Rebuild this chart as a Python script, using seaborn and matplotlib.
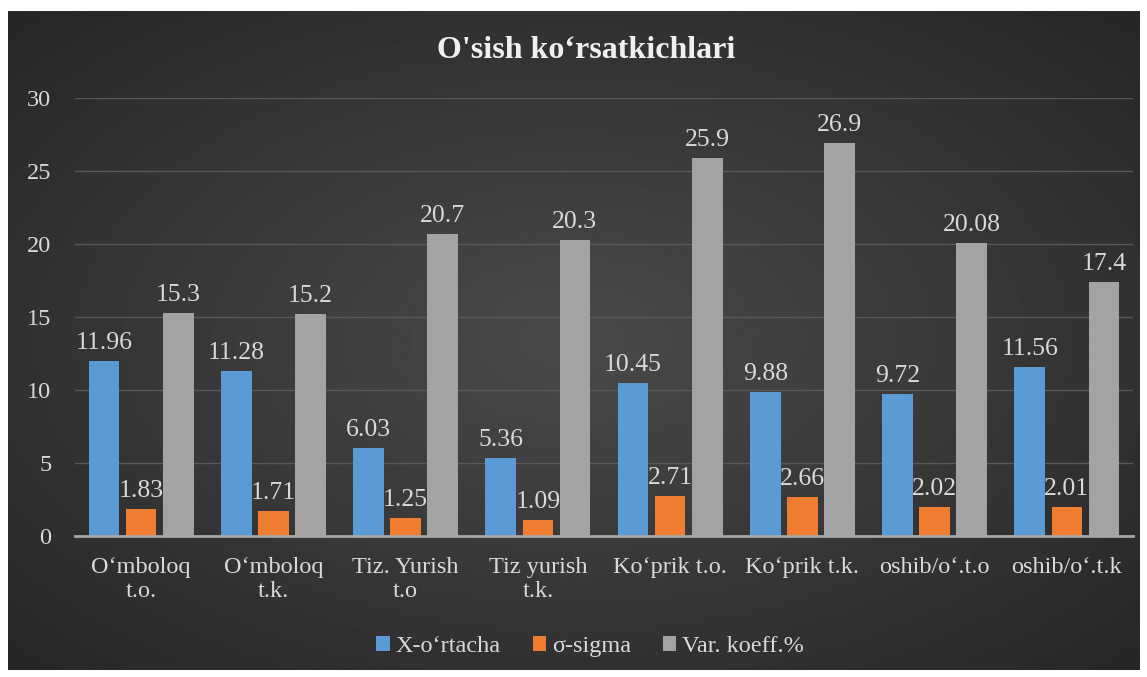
import numpy as np
import pandas as pd
import matplotlib.pyplot as plt
import seaborn as sns

# ma'lumotlar
categories = ["O‘mboloq\nt.o.", "O‘mboloq\nt.k.", "Tiz. Yurish\nt.o", "Tiz yurish\nt.k.",
              "Ko‘prik t.o.", "Ko‘prik t.k.", "oshib/o‘.t.o", "oshib/o‘.t.k"]
series_names = ["X-o‘rtacha", "σ-sigma", "Var. koeff.%"]
x_ortacha = [11.96, 11.28, 6.03, 5.36, 10.45, 9.88, 9.72, 11.56]
sigma = [1.83, 1.71, 1.25, 1.09, 2.71, 2.66, 2.02, 2.01]
var_koeff = [15.3, 15.2, 20.7, 20.3, 25.9, 26.9, 20.08, 17.4]
y_ticks = [0, 5, 10, 15, 20, 25, 30]

df = pd.DataFrame({
    "kategoriya": categories * 3,
    "seriya": [series_names[0]] * 8 + [series_names[1]] * 8 + [series_names[2]] * 8,
    "qiymat": x_ortacha + sigma + var_koeff,
})

sns.set_style("white")
plt.rcParams['font.family'] = ['Liberation Serif', 'DejaVu Serif']
text_col = "#d9d9d9"

fig = plt.figure(figsize=(11.47, 6.77), dpi=100)
fig.patch.set_facecolor("white")

# fon (radial gradient)
bg = fig.add_axes([8 / 1147, 7 / 677, 1132 / 1147, 659 / 677])
yy, xx = np.mgrid[-1:1:300j, -1:1:500j]
r = np.sqrt(xx ** 2 + yy ** 2) / np.sqrt(2)
bg.imshow(0.29 - 0.14 * r, cmap="gray", vmin=0, vmax=1, aspect="auto", extent=[0, 1, 0, 1])
bg.set_axis_off()

ax = fig.add_axes([75 / 1147, 141 / 677, 1058 / 1147, 438 / 677])
ax.set_facecolor("none")
colors = ["#5b9bd5", "#f07c30", "#a3a3a3"]
sns.barplot(data=df, x="kategoriya", y="qiymat", hue="seriya", palette=colors,
            width=0.84, gap=0.17, ax=ax, saturation=1, linewidth=0)

for cont in ax.containers:
    ax.bar_label(cont, fmt="{:g}", padding=5, color=text_col, fontsize=18.5)

ax.set_ylim(0, 30)
ax.set_yticks(y_ticks)
ax.set_xlim(-0.5, 7.5)
ax.yaxis.grid(True, color="#595959", linewidth=1)
ax.set_axisbelow(True)
for s in ["top", "right", "left"]:
    ax.spines[s].set_visible(False)
ax.spines["bottom"].set_color("#a6a6a6")
ax.spines["bottom"].set_linewidth(2)
ax.tick_params(axis="both", length=0, colors=text_col, labelsize=17.5)
ax.tick_params(axis="y", pad=17)
ax.tick_params(axis="x", pad=15)
ax.set_xlabel("")
ax.set_ylabel("")

sns.move_legend(ax, "center", bbox_to_anchor=(0.487, -0.253), ncol=3, frameon=False,
                title=None, fontsize=17.5, handlelength=0.55, handleheight=0.55,
                handletextpad=0.25, columnspacing=1.3)
for t in ax.get_legend().get_texts():
    t.set_color(text_col)

fig.text(0.511, 0.926, "O'sish ko‘rsatkichlari", ha="center", va="center",
         color="#f0f0f0", fontsize=23, fontweight="bold")

plt.savefig("out.png", dpi=100)
